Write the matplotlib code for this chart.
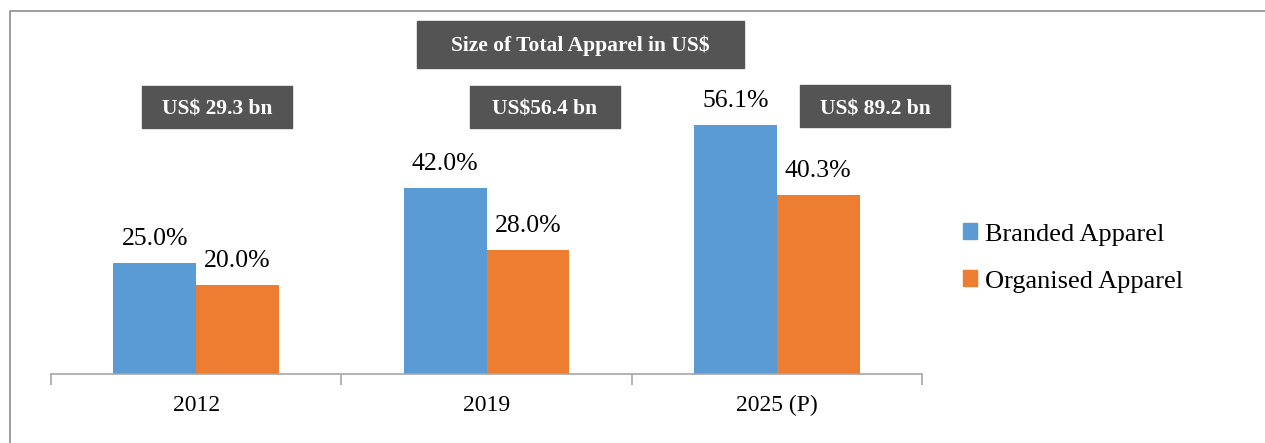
import numpy as np
import matplotlib.pyplot as plt
from matplotlib.patches import Rectangle, Patch
from matplotlib.lines import Line2D

years = ['2012', '2019', '2025 (P)']
branded = [25.0, 42.0, 56.1]
organised = [20.0, 28.0, 40.3]
totals = ['US$ 29.3 bn', 'US$56.4 bn', 'US$ 89.2 bn']

W, H = 1265, 443
plt.rcParams['font.family'] = ['Liberation Serif', 'DejaVu Serif']

fig = plt.figure(figsize=(W / 100, H / 100), dpi=100)

def fx(px):
    return px / W

def fy(py):
    return 1 - py / H

# outer frame (only left and top edges visible)
frame_col = '#8c8c8c'
fig.lines.append(Line2D([fx(10), fx(10), 1.0], [0.0, fy(11), fy(11)],
                        transform=fig.transFigure, color=frame_col, lw=1.2))

ax = fig.add_axes([fx(51), fy(374), fx(922) - fx(51), fy(30) - fy(374)])
x = np.arange(len(years))
bw = 0.285
blue = '#5B9BD5'
orange = '#ED7D31'
b1 = ax.bar(x - bw / 2, branded, bw, color=blue)
b2 = ax.bar(x + bw / 2, organised, bw, color=orange)

ax.set_xlim(-0.5, 2.5)
ax.set_ylim(0, 344 / 4.44)

for bars, vals in [(b1, branded), (b2, organised)]:
    for r, v in zip(bars, vals):
        ax.annotate('%.1f%%' % v, (r.get_x() + r.get_width() / 2, v),
                    xytext=(0, 18), textcoords='offset pixels',
                    ha='center', va='baseline', fontsize=18.5)

for s in ['top', 'right', 'left']:
    ax.spines[s].set_visible(False)
ax.spines['bottom'].set_color('#a6a6a6')
ax.spines['bottom'].set_linewidth(1.2)
ax.set_yticks([])
ax.set_xticks(x)
ax.set_xticklabels(years, fontsize=17)
ax.set_xticks(np.arange(-0.5, 3, 1), minor=True)
ax.tick_params(axis='x', which='major', length=0, pad=15)
ax.tick_params(axis='x', which='minor', length=8, width=1.2, color='#a6a6a6')

# dark boxes: x0, y0, x1, y1, text baseline (pixels)
box_col = '#545454'
boxes = [(417, 21, 744, 68, 51, 'Size of Total Apparel in US$'),
         (142, 86, 292, 128, 115, totals[0]),
         (470, 86, 620, 128, 115, totals[1]),
         (800, 85, 950, 127, 114, totals[2])]
for x0, y0, x1, y1, yb, t in boxes:
    fig.patches.append(Rectangle((fx(x0), fy(y1)), fx(x1) - fx(x0), fy(y0) - fy(y1),
                                 transform=fig.transFigure, color=box_col))
    fig.text(fx((x0 + x1) / 2), fy(yb), t, color='white', fontsize=15.5,
             fontweight='bold', ha='center', va='baseline')

handles = [Patch(color=blue), Patch(color=orange)]
fig.legend(handles, ['Branded Apparel', 'Organised Apparel'], loc='center left',
           bbox_to_anchor=(fx(939), fy(258)), frameon=False, fontsize=19,
           handlelength=0.55, handleheight=0.55, handletextpad=0.3, labelspacing=0.94)

fig.savefig('out.png', dpi=100)
